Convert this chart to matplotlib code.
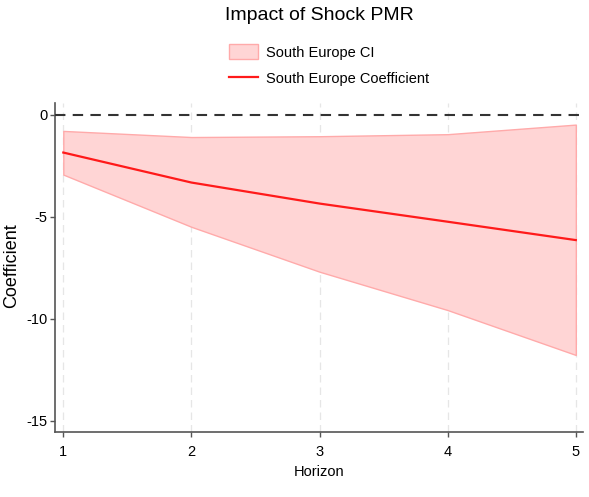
import numpy as np
import matplotlib
matplotlib.use('Agg')
import matplotlib.pyplot as plt
from matplotlib.patches import Patch
from matplotlib.lines import Line2D

# horizons and estimates
horizon = np.array([1, 2, 3, 4, 5])
coef = np.array([-1.86, -3.33, -4.36, -5.25, -6.15])
ci_upper = np.array([-0.80, -1.10, -1.06, -0.96, -0.49])
ci_lower = np.array([-2.94, -5.50, -7.70, -9.58, -11.78])
yticks = [0, -5, -10, -15]

plt.rcParams['font.family'] = ['Liberation Sans', 'DejaVu Sans']
plt.rcParams['axes.unicode_minus'] = False

fig = plt.figure(figsize=(5.89, 4.97), dpi=100)
ax = fig.add_axes([0.094, 0.131, 0.896, 0.661])

# light dashed verticals at each horizon
for h in horizon:
    ax.axvline(h, color='#e6e6e6', lw=0.9, ls=(0, (6, 4)), zorder=0)

ax.fill_between(horizon, ci_lower, ci_upper, facecolor='#ffd5d5',
                edgecolor='#ffaaaa', lw=1.0, zorder=1)
ax.plot(horizon, coef, color='#ff1a1a', lw=1.6, zorder=2)
ax.axhline(0, color='#333333', lw=1.5, ls=(0, (5, 3.5)), zorder=3)

ax.set_xlim(0.938, 5.057)
ax.set_ylim(-15.55, 0.55)
ax.set_xticks(horizon)
ax.set_yticks(yticks)

for side in ['top', 'right']:
    ax.spines[side].set_visible(False)
for side in ['left', 'bottom']:
    ax.spines[side].set_color('#555555')
    ax.spines[side].set_linewidth(1.2)
ax.tick_params(axis='both', direction='out', length=3.5, width=1.0,
               color='#555555', labelsize=10.5)
ax.tick_params(axis='x', pad=6)
ax.tick_params(axis='y', pad=2)

ax.set_xlabel('Horizon', fontsize=10.5, labelpad=4)
ax.set_ylabel('Coefficient', fontsize=13)
ax.yaxis.set_label_coords(-0.066, 0.505)

fig.text(0.5425, 0.968, 'Impact of Shock PMR', fontsize=14,
         ha='center', va='center')

handles = [Patch(facecolor='#ffd5d5', edgecolor='#ffaaaa', lw=1.0),
           Line2D([0], [0], color='#ff1a1a', lw=1.6)]
leg = fig.legend(handles, ['South Europe CI', 'South Europe Coefficient'],
                 loc='upper left', bbox_to_anchor=(0.389, 0.9115), frameon=False,
                 fontsize=10.5, borderpad=0, borderaxespad=0, handlelength=2.0,
                 handleheight=1.25, labelspacing=0.75, handletextpad=0.55)

fig.savefig('out.png', dpi=100)
